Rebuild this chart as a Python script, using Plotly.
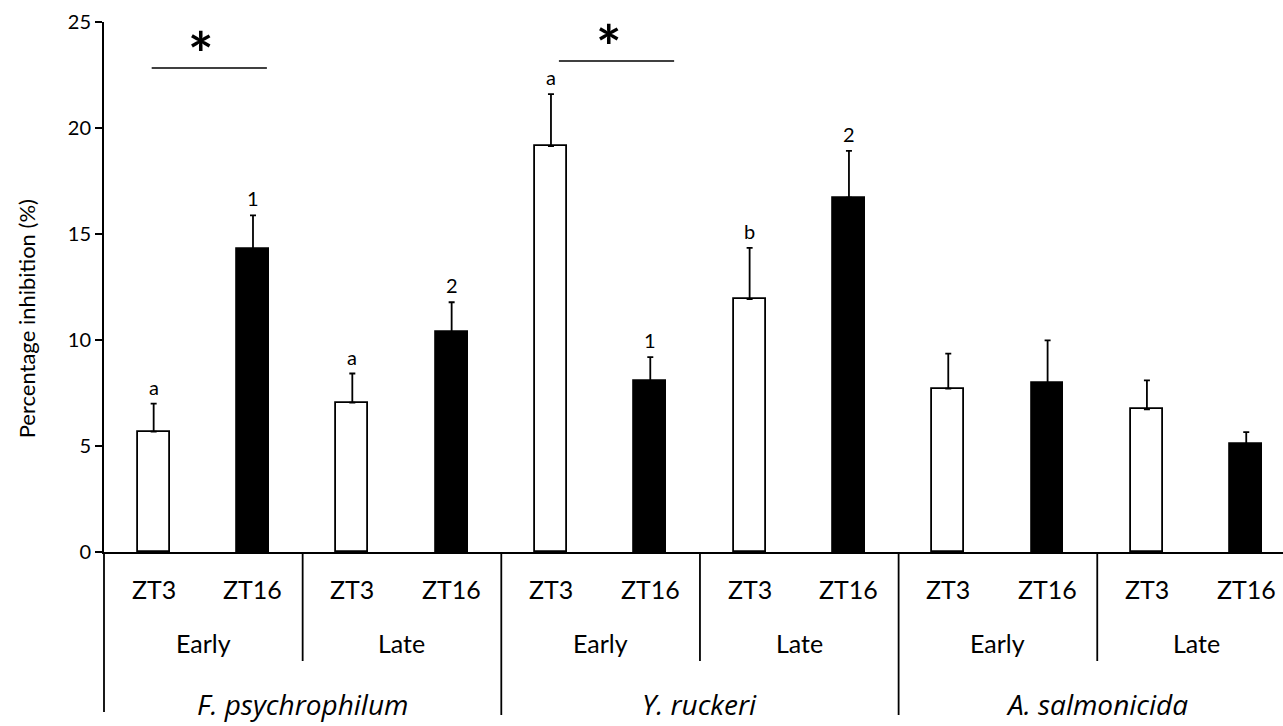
import plotly.graph_objects as go

# ---- data ----
species = ["F. psychrophilum", "Y. ruckeri", "A. salmonicida"]
stages = ["Early", "Late"]
times = ["ZT3", "ZT16"]

zt3_means = [5.68, 7.05, 19.15, 11.93, 7.71, 6.73]
zt3_err = [1.32, 1.37, 2.45, 2.42, 1.65, 1.37]
zt3_letters = ["a", "a", "a", "b", "", ""]

zt16_means = [14.27, 10.38, 8.06, 16.72, 7.98, 5.08]
zt16_err = [1.61, 1.40, 1.13, 2.20, 2.00, 0.57]
zt16_letters = ["1", "2", "1", "2", "", ""]

# significance bars: (x start, x end, y level)
sig_bars = [(-0.02, 1.14, 22.83), (4.08, 5.24, 23.16)]

FONT = "Lato"
ITALIC_FONT = "Open Sans"
n_groups = len(species) * len(stages)
x_zt3 = [2 * i for i in range(n_groups)]
x_zt16 = [2 * i + 1 for i in range(n_groups)]

fig = go.Figure()
fig.add_trace(go.Bar(
    x=x_zt3, y=zt3_means, width=0.32, name="ZT3",
    marker=dict(color="white", line=dict(color="black", width=1.8)),
    error_y=dict(type="data", symmetric=False, array=zt3_err,
                 arrayminus=[0] * n_groups, color="black", thickness=1.8, width=3),
))
fig.add_trace(go.Bar(
    x=x_zt16, y=zt16_means, width=0.32, name="ZT16",
    marker=dict(color="black", line=dict(color="black", width=1.8)),
    error_y=dict(type="data", symmetric=False, array=zt16_err,
                 arrayminus=[0] * n_groups, color="black", thickness=1.8, width=3),
))

ann = []
shapes = []

# letters above error bars
for xs, m, e, labs in [(x_zt3, zt3_means, zt3_err, zt3_letters),
                       (x_zt16, zt16_means, zt16_err, zt16_letters)]:
    for x, mv, ev, lab in zip(xs, m, e, labs):
        if lab:
            ann.append(dict(x=x, y=mv + ev, xref="x", yref="y", text=lab,
                            showarrow=False, yanchor="middle", yshift=17,
                            font=dict(family=FONT, size=20, color="black")))

# significance lines and asterisks
for x0, x1, yv in sig_bars:
    shapes.append(dict(type="line", xref="x", yref="y", x0=x0, x1=x1, y0=yv, y1=yv,
                       line=dict(color="black", width=1.6)))
    ann.append(dict(x=(x0 + x1) / 2 - 0.08, y=yv, xref="x", yref="y", text="<b>*</b>",
                    showarrow=False, yanchor="bottom", yshift=-23,
                    font=dict(family=FONT, size=60, color="black")))

# hierarchical category labels
for i in range(n_groups):
    for j, t in enumerate(times):
        ann.append(dict(x=2 * i + j, y=0, xref="x", yref="paper", text=t,
                        showarrow=False, yanchor="middle", yshift=-37,
                        font=dict(family=FONT, size=25, color="black")))
for s in range(len(species)):
    for k, st in enumerate(stages):
        ann.append(dict(x=4 * s + 2 * k + 0.5, y=0, xref="x", yref="paper", text=st,
                        showarrow=False, yanchor="middle", yshift=-91,
                        font=dict(family=FONT, size=25, color="black")))
    ann.append(dict(x=4 * s + 1.5, y=0, xref="x", yref="paper",
                    text="<i>" + species[s] + "</i>",
                    showarrow=False, yanchor="middle", yshift=-152,
                    font=dict(family=ITALIC_FONT, size=28, color="black")))

# separators below axis
plot_h = 726 - 22 - 174
for s in range(len(species)):
    shapes.append(dict(type="line", xref="x", yref="paper", x0=4 * s + 1.5, x1=4 * s + 1.5,
                       y0=0, y1=-109 / plot_h, line=dict(color="black", width=1.8)))
    if s < len(species) - 1:
        shapes.append(dict(type="line", xref="x", yref="paper", x0=4 * s + 3.5, x1=4 * s + 3.5,
                           y0=0, y1=-163 / plot_h, line=dict(color="black", width=1.8)))
shapes.append(dict(type="line", xref="paper", yref="paper", x0=0, x1=0,
                   y0=0, y1=-160 / plot_h, line=dict(color="black", width=1.8)))

# y axis title
ann.append(dict(x=-78 / 1179, y=(551.7 - 319) / plot_h, xref="paper", yref="paper",
                text="Percentage inhibition (%)", textangle=-90, showarrow=False,
                xanchor="center", yanchor="middle",
                font=dict(family=FONT, size=22, color="black")))

fig.update_layout(
    width=1283, height=726,
    margin=dict(l=104, r=0, t=22, b=174),
    paper_bgcolor="white", plot_bgcolor="white",
    showlegend=False, bargap=0,
    annotations=ann, shapes=shapes,
    font=dict(family=FONT, color="black"),
)
fig.update_xaxes(range=[-0.5, 11.37], showline=True, linecolor="black", linewidth=2,
                 showticklabels=False, ticks="", showgrid=False, zeroline=False)
fig.update_yaxes(range=[0, 25], dtick=5, showline=True, linecolor="black", linewidth=2,
                 ticks="outside", ticklen=7, tickwidth=1.5, tickcolor="black",
                 tickfont=dict(family=FONT, size=20, color="black"),
                 showgrid=False, zeroline=False)

fig.write_html(
    "out.html",
    config={"displayModeBar": False},
    post_script="document.body.style.margin='0';document.body.style.padding='0';"
                "document.documentElement.style.overflow='hidden';",
)
